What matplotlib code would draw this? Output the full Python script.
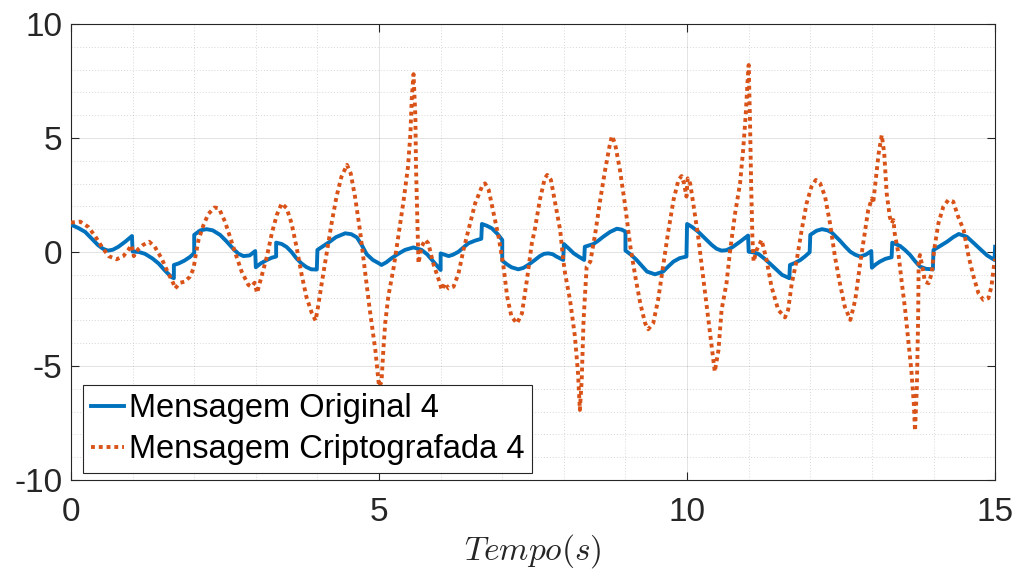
import matplotlib
matplotlib.use("Agg")
import matplotlib.pyplot as plt
from matplotlib.ticker import MultipleLocator

# ---- data ----
blue_t = [0, 0.12, 0.23, 0.35, 0.44, 0.52, 0.6, 0.68, 0.77, 0.88, 0.99,
          1.0, 1.1, 1.2, 1.32, 1.42, 1.52, 1.63, 1.67,
          1.67, 1.75, 1.84, 1.93, 2.0,
          2.0, 2.1, 2.2, 2.3, 2.42, 2.52, 2.64, 2.72, 2.8, 2.9, 2.99,
          3.0, 3.08, 3.18, 3.26, 3.33,
          3.33, 3.42, 3.5, 3.58, 3.66, 3.74, 3.82, 3.9, 3.99,
          4.0, 4.1, 4.2, 4.3, 4.45, 4.55, 4.64, 4.72, 4.8, 4.9, 5.0, 5.04, 5.12, 5.2, 5.3, 5.42, 5.56, 5.69, 5.78, 5.86, 5.93, 6.0,
          6.0, 6.13, 6.2, 6.29, 6.37, 6.45, 6.56, 6.66,
          6.67, 6.75, 6.83, 6.92, 7.0,
          7.0, 7.08, 7.15, 7.26, 7.34, 7.42, 7.53, 7.61, 7.68, 7.75, 7.82, 7.88, 7.99,
          8.0, 8.08, 8.16, 8.24, 8.33,
          8.34, 8.48, 8.56, 8.64, 8.75, 8.86, 8.94, 9.0,
          9.0, 9.09, 9.18, 9.27, 9.35, 9.48, 9.61, 9.7, 9.78, 9.88, 9.99,
          10.0, 10.08, 10.18, 10.29, 10.4, 10.48, 10.56, 10.64, 10.73, 10.86, 10.99,
          11.0, 11.08, 11.16, 11.26, 11.37, 11.46, 11.54, 11.66,
          11.67, 11.75, 11.84, 11.92, 11.99,
          12.0, 12.1, 12.19, 12.28, 12.35, 12.48, 12.57, 12.65, 12.73, 12.81, 12.9, 12.99,
          13.0, 13.06, 13.13, 13.22, 13.32,
          13.33, 13.46, 13.54, 13.62, 13.7, 13.78, 13.88, 13.99,
          14.0, 14.1, 14.22, 14.32, 14.41, 14.54, 14.65, 14.76, 14.87, 14.99,
          15.0]
blue_y = [1.2, 1.05, 0.88, 0.55, 0.3, 0.14, 0.06, 0.1, 0.23, 0.45, 0.7,
          0.02, 0.0, -0.08, -0.28, -0.5, -0.8, -1.1, -1.15,
          -0.57, -0.5, -0.38, -0.22, -0.05,
          0.75, 0.95, 1.0, 0.95, 0.75, 0.48, 0.12, -0.08, -0.18, -0.15, 0.04,
          -0.67, -0.5, -0.35, -0.25, -0.2,
          0.41, 0.35, 0.22, 0.0, -0.28, -0.5, -0.66, -0.76, -0.77,
          0.09, 0.27, 0.45, 0.65, 0.82, 0.78, 0.64, 0.3, -0.1, -0.35, -0.5, -0.57, -0.45, -0.28, -0.1, 0.09, 0.2, 0.09, -0.1, -0.35, -0.57, -0.79,
          -0.06, -0.18, -0.12, 0.01, 0.2, 0.38, 0.5, 0.58,
          1.23, 1.15, 1.04, 0.8, 0.53,
          -0.38, -0.55, -0.67, -0.76, -0.7, -0.57, -0.35, -0.18, -0.08, -0.06, -0.1, -0.2, -0.35,
          0.35, 0.15, -0.06, -0.2, -0.35,
          0.23, 0.35, 0.5, 0.67, 0.88, 1.02, 0.98, 0.89,
          0.06, -0.12, -0.35, -0.62, -0.86, -0.98, -0.86, -0.62, -0.42, -0.27, -0.2,
          1.23, 1.1, 0.89, 0.6, 0.31, 0.14, 0.06, 0.08, 0.2, 0.45, 0.72,
          0.01, -0.02, -0.09, -0.3, -0.57, -0.8, -1.0, -1.15,
          -0.57, -0.48, -0.35, -0.18, -0.01,
          0.75, 0.93, 1.0, 0.95, 0.85, 0.5, 0.23, 0.01, -0.12, -0.2, -0.12, 0.04,
          -0.69, -0.55, -0.42, -0.3, -0.23,
          0.41, 0.26, 0.08, -0.13, -0.4, -0.64, -0.74, -0.76,
          0.09, 0.25, 0.45, 0.65, 0.79, 0.67, 0.4, 0.12, -0.15, -0.35,
          0.23]

orange_t = [0, 0.15, 0.28, 0.39, 0.5, 0.61, 0.74, 0.85, 0.93, 0.98, 1.02, 1.09, 1.17, 1.27, 1.36,
            1.47, 1.58, 1.66, 1.69, 1.77, 1.85, 1.93, 1.99, 2.02, 2.07, 2.15, 2.23, 2.33, 2.4, 2.47,
            2.5, 2.58, 2.66, 2.77, 2.88, 2.93, 2.98, 3.02, 3.06, 3.12, 3.18, 3.26, 3.34, 3.42, 3.5,
            3.58, 3.66, 3.74, 3.82, 3.91, 3.97, 4.01, 4.07, 4.15, 4.23, 4.31, 4.39, 4.48, 4.54, 4.61,
            4.69, 4.77, 4.85, 4.94, 5.0, 5.04, 5.07, 5.1, 5.15, 5.24, 5.32, 5.4, 5.47, 5.51, 5.53,
            5.56, 5.59, 5.6, 5.62, 5.64, 5.69, 5.75, 5.8, 5.88, 5.97, 6.02, 6.07, 6.13, 6.21, 6.29,
            6.37, 6.48, 6.56, 6.67, 6.72, 6.78, 6.86, 6.94, 7.02, 7.08, 7.15, 7.24, 7.32, 7.40, 7.48,
            7.53, 7.61, 7.69, 7.73, 7.79, 7.86, 7.94, 7.99, 8.02, 8.1, 8.18, 8.23, 8.26, 8.29, 8.32,
            8.37, 8.43, 8.51, 8.59, 8.67, 8.74, 8.78, 8.83, 8.91, 8.99, 9.08, 9.16, 9.24, 9.32, 9.37,
            9.45, 9.53, 9.61, 9.69, 9.78, 9.86, 9.91, 9.95, 9.99, 10.01, 10.05, 10.1, 10.18, 10.26, 10.34,
            10.4, 10.45, 10.51, 10.56, 10.64, 10.7, 10.78, 10.86, 10.91, 10.95, 10.98, 11.0, 11.02, 11.04, 11.06,
            11.08, 11.13, 11.21, 11.29, 11.37, 11.48, 11.59, 11.64, 11.7, 11.78, 11.86, 11.94, 12.02, 12.09, 12.16,
            12.24, 12.32, 12.4, 12.48, 12.56, 12.65, 12.73, 12.81, 12.89, 12.94, 13.0, 13.02, 13.05, 13.11, 13.16,
            13.2, 13.24, 13.29, 13.32, 13.35, 13.37, 13.43, 13.48, 13.54, 13.59, 13.64, 13.68, 13.7, 13.73, 13.75,
            13.76, 13.78, 13.82, 13.86, 13.92, 13.97, 14.01, 14.08, 14.16, 14.24, 14.32, 14.4, 14.49, 14.57, 14.65,
            14.73, 14.81, 14.89, 14.94, 14.98, 15.0]
orange_y = [1.29, 1.33, 1.1, 0.7, 0.23, -0.18, -0.32, -0.18, 0.09, 0.3, -0.18, 0.12, 0.31, 0.45, 0.23,
            -0.28, -0.94, -1.37, -1.6, -1.35, -1.3, -1.08, -0.72, -0.2, 0.53, 1.18, 1.67, 1.95, 1.92, 1.5,
            1.33, 0.67, 0.01, -0.86, -1.45, -1.52, -1.35, -1.8, -1.4, -0.8, -0.2, 0.82, 1.62, 2.13, 1.92,
            1.26, 0.23, -0.94, -1.96, -2.69, -3.01, -2.4, -1.37, -0.06, 1.26, 2.43, 3.3, 3.82, 3.45, 2.43,
            0.96, -0.79, -2.54, -4.3, -5.9, -5.7, -4.3, -3.13, -1.96, -0.64, 0.82, 2.28, 3.74, 5.2, 6.67,
            7.8, 5.94, 3.74, 1.55, -0.5, 0.23, 0.53, 0.38, -0.5, -1.23, -1.67, -1.37, -1.6, -1.52, -0.94,
            0.09, 1.26, 2.13, 2.87, 3.01, 2.72, 1.7, 0.67, -0.64, -1.96, -2.84, -3.13, -2.69, -1.23, 0.38,
            1.0, 2.28, 3.23, 3.38, 3.16, 2.13, 0.96, -0.35, -0.94, -2.1, -3.71, -5.32, -6.93, -5.61, -2.98,
            -0.64, -0.42, 0.82, 2.28, 3.6, 4.62, 5.09, 4.77, 3.6, 2.13, 0.23, -1.08, -2.25, -3.13, -3.39,
            -3.13, -2.1, -0.64, 0.82, 2.28, 3.16, 3.33, 3.01, 2.43, 3.23, 3.01, 2.13, 0.67, -1.08, -2.84,
            -4.15, -5.25, -4.3, -2.54, -1.37, 0.09, 1.7, 3.01, 4.47, 5.94, 7.4, 8.2, 5.94, 3.01, 0.67,
            -0.42, 0.09, 0.53, -0.35, -1.52, -2.54, -2.87, -2.54, -1.37, -0.35, 0.96, 2.13, 2.87, 3.16, 3.01,
            2.43, 1.26, -0.2, -1.37, -2.4, -2.98, -2.1, -0.5, 0.96, 1.84, 2.35, 2.13, 2.87, 4.33, 5.13,
            4.33, 2.57, 1.55, 1.26, 1.4, 0.82, -0.06, -1.23, -2.54, -3.86, -5.18, -6.64, -7.85, -5.91, -2.98,
            -0.35, -0.13, -0.64, -1.3, -1.37, -0.94, 0.09, 1.26, 1.99, 2.28, 2.21, 1.55, 0.96, -0.2, -1.08,
            -1.81, -2.1, -2.03, -1.52, -0.64, -0.3]

labels = ["Mensagem Original 4", "Mensagem Criptografada 4"]
x_ticks = [0, 5, 10, 15]
y_ticks = [-10, -5, 0, 5, 10]
x_label = r"$Tempo(s)$"

plt.rcParams['font.family'] = ['Liberation Sans', 'DejaVu Sans']
plt.rcParams['mathtext.fontset'] = 'cm'

fig = plt.figure(figsize=(10.2, 5.74), dpi=100)
ax = fig.add_axes([0.0696, 0.1638, 0.906, 0.7944])

ax.plot(blue_t, blue_y, color='#0072BD', lw=2.8, label=labels[0], zorder=3)
ax.plot(orange_t, orange_y, color='#D95319', lw=2.8, linestyle=(0, (1, 1.0)),
        label=labels[1], zorder=3)

ax.set_xlim(0, 15)
ax.set_ylim(-10, 10)
ax.set_xticks(x_ticks)
ax.set_yticks(y_ticks)
ax.set_xticklabels([str(v) for v in x_ticks])
ax.set_yticklabels([str(v) for v in y_ticks])
ax.xaxis.set_minor_locator(MultipleLocator(1))
ax.yaxis.set_minor_locator(MultipleLocator(1))

ax.grid(True, which='major', color='#262626', alpha=0.13, lw=0.7, linestyle='-')
ax.grid(True, which='minor', color='#262626', alpha=0.18, lw=0.7, linestyle=(0, (1, 2)))
ax.set_axisbelow(True)

ax.tick_params(axis='both', which='major', direction='in', length=6, width=0.8,
               colors='#262626', labelsize=24, top=True, right=True)
ax.tick_params(axis='x', which='major', pad=12)
ax.tick_params(axis='y', which='major', pad=6)
ax.tick_params(axis='both', which='minor', length=0, top=True, right=True)
for s in ax.spines.values():
    s.set_color('#262626')
    s.set_linewidth(0.8)

ax.set_xlabel(x_label, fontsize=24, color='#262626', labelpad=3)

leg = ax.legend(loc='lower left', bbox_to_anchor=(0.013, 0.015), borderaxespad=0,
                fontsize=23.5, handlelength=1.0, handletextpad=0.15, labelspacing=0.3,
                borderpad=0.25, fancybox=False, framealpha=1, edgecolor='#262626')
leg.get_frame().set_linewidth(0.8)

fig.savefig('out.png', dpi=100)
